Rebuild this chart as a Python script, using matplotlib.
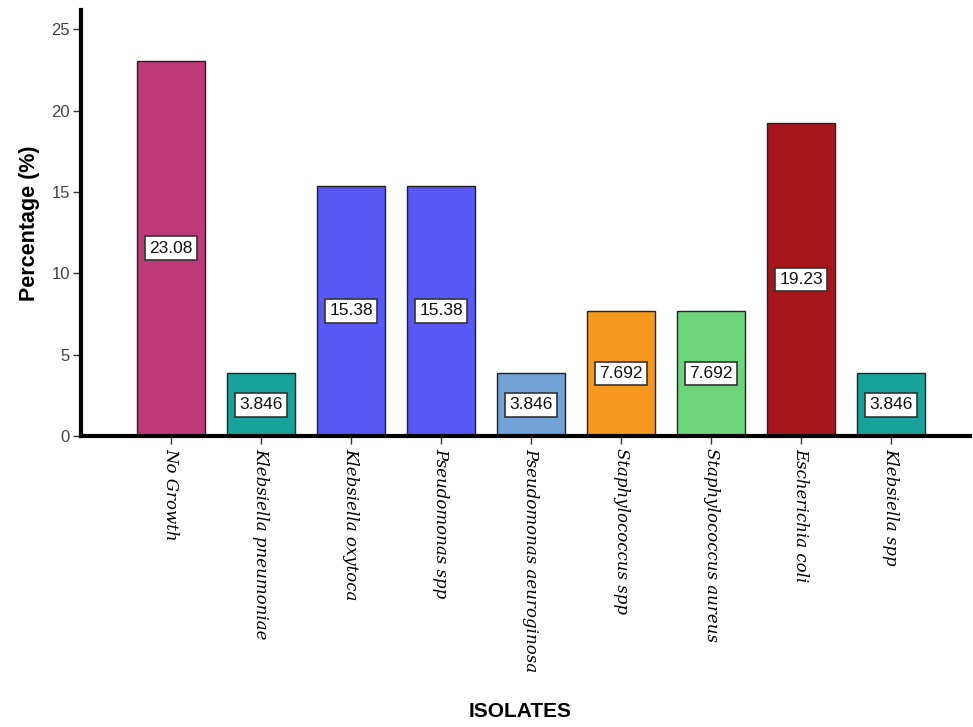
import matplotlib
matplotlib.use("Agg")
import matplotlib.pyplot as plt

categories = ["No Growth", "Klebsiella pneumoniae", "Klebsiella oxytoca", "Pseudomonas spp",
              "Pseudomonas aeuroginosa", "Staphylococcus spp", "Staphylococcus aureus",
              "Escherichia coli", "Klebsiella spp"]
values = [23.08, 3.846, 15.38, 15.38, 3.846, 7.692, 7.692, 19.23, 3.846]
value_labels = ["23.08", "3.846", "15.38", "15.38", "3.846", "7.692", "7.692", "19.23", "3.846"]
colors = ["#BE3A78", "#17A39B", "#5858F4", "#5858F4", "#72A2D6", "#F7981F", "#6DD47B", "#A6171C", "#17A39B"]
yticks = [0, 5, 10, 15, 20, 25]

fig = plt.figure(figsize=(9.73, 7.27), dpi=100)
ax = fig.add_axes([0.0833, 0.4003, 0.914, 0.586])

x = list(range(len(categories)))
ax.bar(x, values, width=0.75, color=colors, edgecolor="#222222", linewidth=1.0, zorder=2)

for xi, v, lab in zip(x, values, value_labels):
    ax.text(xi, v / 2, lab, ha="center", va="center", fontsize=12.5, family="Liberation Sans",
            color="#111111",
            bbox=dict(boxstyle="square,pad=0.25", facecolor="white", edgecolor="#333333", linewidth=1.2),
            zorder=3)

ax.set_xlim(-1.0, 8.88)
ax.set_ylim(0, 26.2)
ax.set_yticks(yticks)
ax.set_yticklabels([str(t) for t in yticks], fontsize=12, family="Liberation Sans", color="#444444")
ax.set_xticks(x)
ax.set_xticklabels(categories, rotation=-90, fontsize=12, family="DejaVu Serif", style="italic",
                   ha="center", va="top")

for s in ["top", "right"]:
    ax.spines[s].set_visible(False)
ax.spines["left"].set_linewidth(3)
ax.spines["bottom"].set_linewidth(3)
ax.tick_params(axis="y", direction="out", length=6, width=1, color="#333333", pad=2)
ax.tick_params(axis="x", direction="out", length=6, width=1, color="#333333", pad=3)

ax.set_ylabel("Percentage (%)", fontsize=15.5, fontweight="bold", family="Liberation Sans", labelpad=8)
fig.text(0.535, 0.008, "ISOLATES", fontsize=15, fontweight="bold", family="Liberation Sans",
         ha="center", va="bottom")

fig.savefig("out.png", dpi=100)
